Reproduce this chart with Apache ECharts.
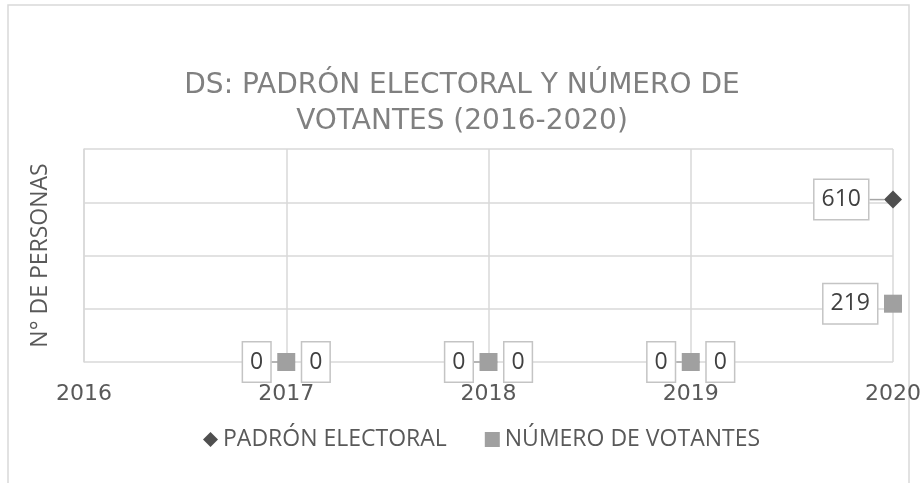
<!DOCTYPE html>
<html>
<head>
<meta charset="utf-8">
<script src="https://cdn.jsdelivr.net/npm/echarts@6/dist/echarts.min.js"></script>
<style>
  html, body { margin: 0; padding: 0; background: #fff; }
  #chart { width: 924px; height: 483px; }
</style>
</head>
<body>
<div id="chart"></div>
<script>
const years = [2017, 2018, 2019, 2020];
const padron = [0, 0, 0, 610];
const votantes = [0, 0, 0, 219];
const seriesNames = ['PADRÓN ELECTORAL', 'NÚMERO DE VOTANTES'];

const chart = echarts.init(document.getElementById('chart'));

const boxLabel = {
    show: true,
    color: '#404040',
    fontFamily: 'Open Sans',
    fontSize: 23,
    lineHeight: 25,
    backgroundColor: '#fff',
    borderColor: '#c4c4c4',
    borderWidth: 1.5,
    padding: [8, 7, 6, 7]
};

const lastIdx = years.length - 1;
const padronData = years.map((y, i) => ({
    value: [y, padron[i]],
    label: { position: 'left', distance: 7 }
}));
const votantesData = years.map((y, i) => ({
    value: [y, votantes[i]],
    label: { position: i === lastIdx ? 'left' : 'right', distance: 7 }
}));

const option = {
    animation: false,
    title: {
        text: 'DS: PADRÓN ELECTORAL Y NÚMERO DE\nVOTANTES (2016-2020)',
        left: 'center',
        top: 63,
        textStyle: {
            color: '#808080',
            fontFamily: 'DejaVu Sans',
            fontWeight: 'normal',
            fontSize: 28,
            lineHeight: 36
        }
    },
    graphic: [{
        type: 'rect',
        shape: { x: 8, y: 5, width: 901, height: 490 },
        style: { fill: 'none', stroke: '#d9d9d9', lineWidth: 1.5 },
        silent: true
    }],
    legend: {
        bottom: 27,
        left: 198,
        itemGap: 38,
        itemWidth: 15,
        itemHeight: 15,
        textStyle: { color: '#595959', fontFamily: 'Open Sans', fontSize: 23 },
        data: [
            { name: seriesNames[0], icon: 'diamond' },
            { name: seriesNames[1], icon: 'rect' }
        ]
    },
    grid: { left: 84, right: 31, top: 149, bottom: 121 },
    xAxis: {
        type: 'value',
        min: 2016,
        max: 2020,
        interval: 1,
        axisLine: { show: false },
        axisTick: { show: false },
        splitLine: { show: true, lineStyle: { color: '#d9d9d9', width: 1.5 } },
        axisLabel: {
            color: '#595959',
            fontFamily: 'DejaVu Sans',
            fontSize: 22,
            margin: 21,
            formatter: v => String(v)
        }
    },
    yAxis: {
        type: 'value',
        min: 0,
        max: 800,
        interval: 200,
        name: 'N° DE PERSONAS',
        nameLocation: 'middle',
        nameGap: 32,
        nameTextStyle: { color: '#595959', fontFamily: 'Open Sans', fontSize: 23 },
        axisLine: { show: true, lineStyle: { color: '#d9d9d9', width: 1.5 } },
        axisTick: { show: false },
        axisLabel: { show: false },
        splitLine: { show: true, lineStyle: { color: '#d9d9d9', width: 1.5 } }
    },
    series: [
        {
            name: seriesNames[0],
            type: 'scatter',
            symbol: 'diamond',
            symbolSize: 18,
            itemStyle: { color: '#4f4f4f', opacity: 1 },
            label: boxLabel,
            labelLine: { show: true, lineStyle: { color: '#a6a6a6', width: 1.5 } },
            labelLayout: p => (p.dataIndex === lastIdx ? { dx: -9 } : {}),
            data: padronData,
            z: 2
        },
        {
            name: seriesNames[1],
            type: 'scatter',
            symbol: 'rect',
            symbolSize: 18,
            itemStyle: { color: '#a0a0a0', opacity: 1 },
            label: boxLabel,
            data: votantesData,
            z: 3
        }
    ]
};

chart.setOption(option);
window.addEventListener('resize', () => chart.resize());
</script>
</body>
</html>
